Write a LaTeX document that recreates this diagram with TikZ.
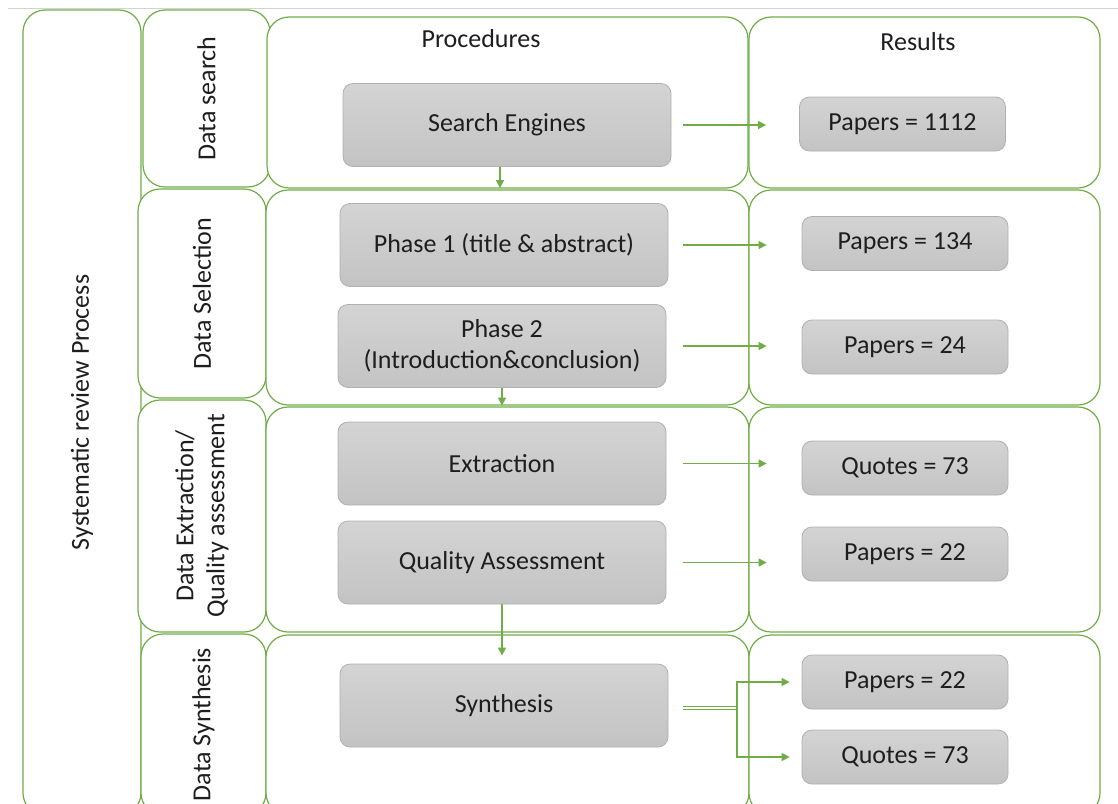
\documentclass[tikz,border=0pt]{standalone}
\usepackage{fontspec}
\setmainfont{Carlito}
\usetikzlibrary{positioning, arrows.meta}
\definecolor{leaf}{HTML}{70AD47}
\definecolor{ink}{HTML}{1E1E1E}

\begin{document}
\begin{tikzpicture}[x=1pt, y=-1pt,
    font=\fontsize{26}{31}\selectfont, text=ink,
    lane/.style={draw=leaf, line width=1.2pt, rounded corners=22pt, fill=white, inner sep=0pt},
    stage/.style={lane, rotate=90, align=center},
    proc/.style={draw=gray!62, line width=0.8pt, rounded corners=10pt, top color=gray!34, bottom color=gray!47,
        minimum width=328pt, minimum height=83pt, align=center, inner sep=0pt},
    res/.style={proc, minimum width=206pt, minimum height=54pt},
    flow/.style={draw=leaf, line width=1.3pt, -{Triangle[length=8pt,width=8pt]}}]
                \clip (0,0) rectangle (1118,803);
                \draw[gray!35, line width=1pt] (8,8) -- (1118,8);
                % left column
                \node[stage, minimum width=805pt, minimum height=118pt] (srp) at (82,412.5) {Systematic review Process};
                \node[stage, minimum width=177pt, minimum height=127pt] (dsearch) at (206.5,98.5) {Data search};
                \node[stage, minimum width=209pt, minimum height=128pt] (dsel) at (202,293.5) {Data Selection};
                \node[stage, minimum width=232pt, minimum height=128pt] (dext) at (202,516) {Data Extraction/\\Quality assessment};
                \node[stage, minimum width=181pt, minimum height=125pt] (dsyn) at (203.5,724.5) {Data Synthesis};
                % procedures and results rows
                \node[lane, minimum width=481pt, minimum height=171pt] (prow1) at (507.5,102.5) {};
                \node[lane, minimum width=483pt, minimum height=215pt] (prow2) at (507.5,297.5) {};
                \node[lane, minimum width=483pt, minimum height=225pt] (prow3) at (507.5,519.5) {};
                \node[lane, minimum width=483pt, minimum height=180pt] (prow4) at (507.5,725) {};
                \node[lane, minimum width=351pt, minimum height=171pt] (rrow1) at (924.5,102.5) {};
                \node[lane, minimum width=351pt, minimum height=215pt] (rrow2) at (924.5,297.5) {};
                \node[lane, minimum width=351pt, minimum height=225pt] (rrow3) at (924.5,519.5) {};
                \node[lane, minimum width=351pt, minimum height=180pt] (rrow4) at (924.5,725) {};
                \node (prochead) at (481,39) {Procedures};
                \node (reshead) at (918,42) {Results};
                % procedures
                \node[proc] (search) at (507,125) {Search Engines};
                \node[proc] (phase1) at (504,245) {Phase 1 (title \& abstract)};
                \node[proc] (phase2) at (502,346) {Phase 2\\(Introduction\&conclusion)};
                \node[proc] (extract) at (502,463.5) {Extraction};
                \node[proc] (quality) at (502,562.5) {Quality Assessment};
                \node[proc] (synth) at (504,705.5) {Synthesis};
                % results
                \node[res] (p1112) at (902.5,124) {Papers = 1112};
                \node[res] (p134) at (905,243.5) {Papers = 134};
                \node[res] (p24) at (905,347) {Papers = 24};
                \node[res] (q73) at (905,468) {Quotes = 73};
                \node[res] (p22) at (905,554) {Papers = 22};
                \node[res] (p22b) at (905,682) {Papers = 22};
                \node[res] (q73b) at (905,757) {Quotes = 73};
                \coordinate (split) at (737,708);
                \draw[flow, shorten <=12pt, shorten >=33pt] (search.east) -- (search.east -| p1112.west);
                \draw[flow, shorten <=15pt, shorten >=35pt] (phase1.east) -- (phase1.east -| p134.west);
                \draw[flow, shorten <=17pt, shorten >=35pt] (phase2.east) -- (phase2.east -| p24.west);
                \draw[flow, shorten <=17pt, shorten >=35pt] (extract.east) -- (extract.east -| q73.west);
                \draw[flow, shorten <=17pt, shorten >=35pt] (quality.east) -- (quality.east -| p22.west);
                \draw[leaf, line width=0.9pt, double, double distance=2pt, shorten <=15pt] (synth.east |- split) -- (split);
                \draw[flow, shorten >=12pt] (split) |- (p22b.west);
                \draw[flow, shorten >=12pt] (split) |- (q73b.west);
                \draw[flow, shorten >=15pt] ([xshift=-7pt]search.south) -- ([xshift=-7pt]search.south |- phase1.north);
                \draw[flow, shorten >=16pt] (phase2.south) -- (phase2.south |- extract.north);
                \draw[flow, shorten >=8pt] (quality.south) -- (quality.south |- synth.north);
            \end{tikzpicture}
\end{document}
